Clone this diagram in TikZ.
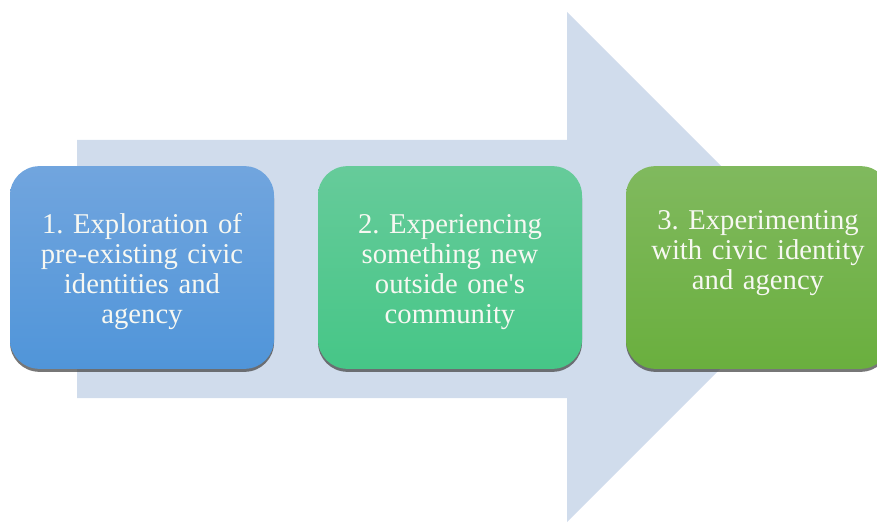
\documentclass[tikz,border=0pt]{standalone}
\usepackage{fontspec}
\setmainfont{Liberation Serif}[WordSpace=0.8]
\definecolor{arrowc}{HTML}{D0DCEC}
\definecolor{b1top}{HTML}{71A5DE}
\definecolor{b1bot}{HTML}{5095D9}
\definecolor{b2top}{HTML}{66CB9A}
\definecolor{b2bot}{HTML}{46C687}
\definecolor{b3top}{HTML}{80B95E}
\definecolor{b3bot}{HTML}{6AAF3E}
\definecolor{txt}{HTML}{F7F8F2}
\definecolor{shad}{HTML}{4A4A4A}
\begin{document}
\frenchspacing
\begin{tikzpicture}[x=0.75pt,y=-0.75pt,
  boxshape/.style={rectangle, rounded corners=22pt, minimum width=198pt, minimum height=152pt, inner sep=0pt, draw=none},
  shadowbox/.style={boxshape, fill=shad, opacity=0.75},
  label/.style={text=txt, align=center, text width=190pt, inner sep=0pt, anchor=base, font=\fontsize{21.5}{22.5}\selectfont}]
\useasboundingbox (0,0) rectangle (877,523);
\begin{scope}
\clip (0,0) rectangle (877,523);
% big arrow
\fill[arrowc] (77,140) -- (567,140) -- (567,12) -- (822,267) -- (567,522) -- (567,398) -- (77,398) -- cycle;
% shadows
\node[shadowbox] (s1) at (142,270.5) {};
\node[shadowbox] (s2) at (450,270.5) {};
\node[shadowbox] (s3) at (758,270.5) {};
% boxes
\node[boxshape, top color=b1top, bottom color=b1bot] (b1) at (142,267.5) {};
\node[boxshape, top color=b2top, bottom color=b2bot] (b2) at (450,267.5) {};
\node[boxshape, top color=b3top, bottom color=b3bot] (b3) at (758,267.5) {};
\end{scope}
% texts
\node[label] (t1) at (142,234) {1. Exploration of\\pre-existing civic\\identities and\\agency};
\node[label] (t2) at (450,234) {2. Experiencing\\something new\\outside one\textquotesingle s\\community};
\node[label] (t3) at (758,230) {3. Experimenting\\with civic identity\\and agency};
\end{tikzpicture}
\end{document}
